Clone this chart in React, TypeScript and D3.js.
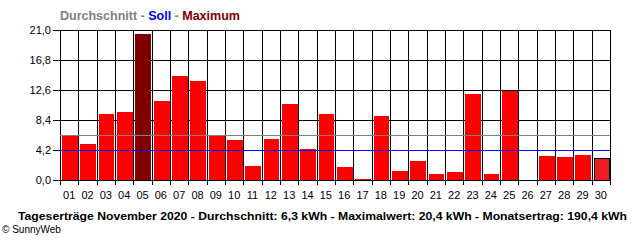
import React from "react";
import * as d3 from "d3";

const days = ["01","02","03","04","05","06","07","08","09","10","11","12","13","14","15","16","17","18","19","20","21","22","23","24","25","26","27","28","29","30"];
const yields = [6.1, 5.0, 9.3, 9.5, 20.4, 11.0, 14.5, 13.8, 6.3, 5.6, 1.9, 5.8, 10.7, 4.3, 9.3, 1.8, 0.2, 8.9, 1.2, 2.6, 0.8, 1.1, 12.1, 0.8, 12.4, 0, 3.3, 3.2, 3.5, 3.1];
const yTicks = [0, 4.2, 8.4, 12.6, 16.8, 21.0];
const average = 6.3;
const target = 4.2;
const maxValue = 20.4;
const title = "Tageserträge November 2020 - Durchschnitt: 6,3 kWh - Maximalwert: 20,4 kWh - Monatsertrag: 190,4 kWh";

const FONT = "'Liberation Sans', Arial, sans-serif";

export default function App() {
  const W = 640, H = 240;
  const left = 60, right = 610, top = 30, bottom = 180;
  const x = d3.scaleBand<string>().domain(days).range([left, right]).paddingInner(0).paddingOuter(0);
  const y = d3.scaleLinear().domain([0, 21]).range([bottom, top]);
  const bw = x.bandwidth();
  const fmt = (v: number) => v.toFixed(1).replace(".", ",");
  const lastIdx = days.length - 1;

  return (
    <svg width={W} height={H} style={{ position: "absolute", left: 0, top: 0, display: "block", background: "#fff" }} fontFamily={FONT}>
      <rect x={0} y={0} width={W} height={H} fill="#fff" />
      {/* legend */}
      <text x={60} y={20} fontSize={12.5} fontWeight="bold">
        <tspan fill="#808080">Durchschnitt</tspan>
        <tspan fill="#808080"> - </tspan>
        <tspan fill="#0000ff">Soll</tspan>
        <tspan fill="#808080"> - </tspan>
        <tspan fill="#800000">Maximum</tspan>
      </text>
      {/* horizontal grid + y ticks */}
      {yTicks.map((t) => (
        <g key={"y" + t}>
          <line x1={53} x2={right} y1={Math.round(y(t)) + 0.5} y2={Math.round(y(t)) + 0.5} stroke="#000" strokeWidth={1} />
          <text x={51} y={Math.round(y(t)) + 4} fontSize={11} textAnchor="end" fill="#000">{fmt(t)}</text>
        </g>
      ))}
      {/* vertical grid + x ticks */}
      {days.map((d) => (
        <line key={"v" + d} x1={Math.round(x(d)!) + 0.5} x2={Math.round(x(d)!) + 0.5} y1={top} y2={bottom + 5} stroke="#000" strokeWidth={1} />
      ))}
      <line x1={right + 0.5} x2={right + 0.5} y1={top} y2={bottom + 5} stroke="#000" strokeWidth={1} />
      {/* bars */}
      {yields.map((v, i) => {
        if (v <= 0) return null;
        const x0 = Math.round(x(days[i])! + 2);
        const x1 = Math.round(x(days[i])! + bw - 0.5);
        const y0 = Math.round(y(v));
        const isMax = v === maxValue;
        const isLast = i === lastIdx;
        if (isLast) {
          return <rect key={"b" + i} x={x0 + 0.5} y={y0 + 0.5} width={x1 - x0 - 1} height={bottom - y0} fill="#ee1c24" stroke="#000" strokeWidth={1} />;
        }
        return <rect key={"b" + i} x={x0} y={y0} width={x1 - x0} height={bottom - y0} fill={isMax ? "#800000" : "#ff0000"} />;
      })}
      {/* average and target lines */}
      <line x1={left} x2={right} y1={Math.round(y(average)) + 0.5} y2={Math.round(y(average)) + 0.5} stroke="#808080" strokeWidth={1} />
      <line x1={left} x2={right} y1={Math.round(y(target)) + 0.5} y2={Math.round(y(target)) + 0.5} stroke="#0000ff" strokeWidth={1} />
      {/* x labels */}
      {days.map((d) => (
        <text key={"xl" + d} x={x(d)! + bw / 2} y={199} fontSize={11} textAnchor="middle" fill="#000">{d}</text>
      ))}
      {/* title */}
      <text x={18} y={220} fontSize={11.5} fontWeight="bold" fill="#000" textLength={609} lengthAdjust="spacingAndGlyphs">{title}</text>
      <text x={2} y={233} fontSize={10} fill="#000">© SunnyWeb</text>
    </svg>
  );
}
